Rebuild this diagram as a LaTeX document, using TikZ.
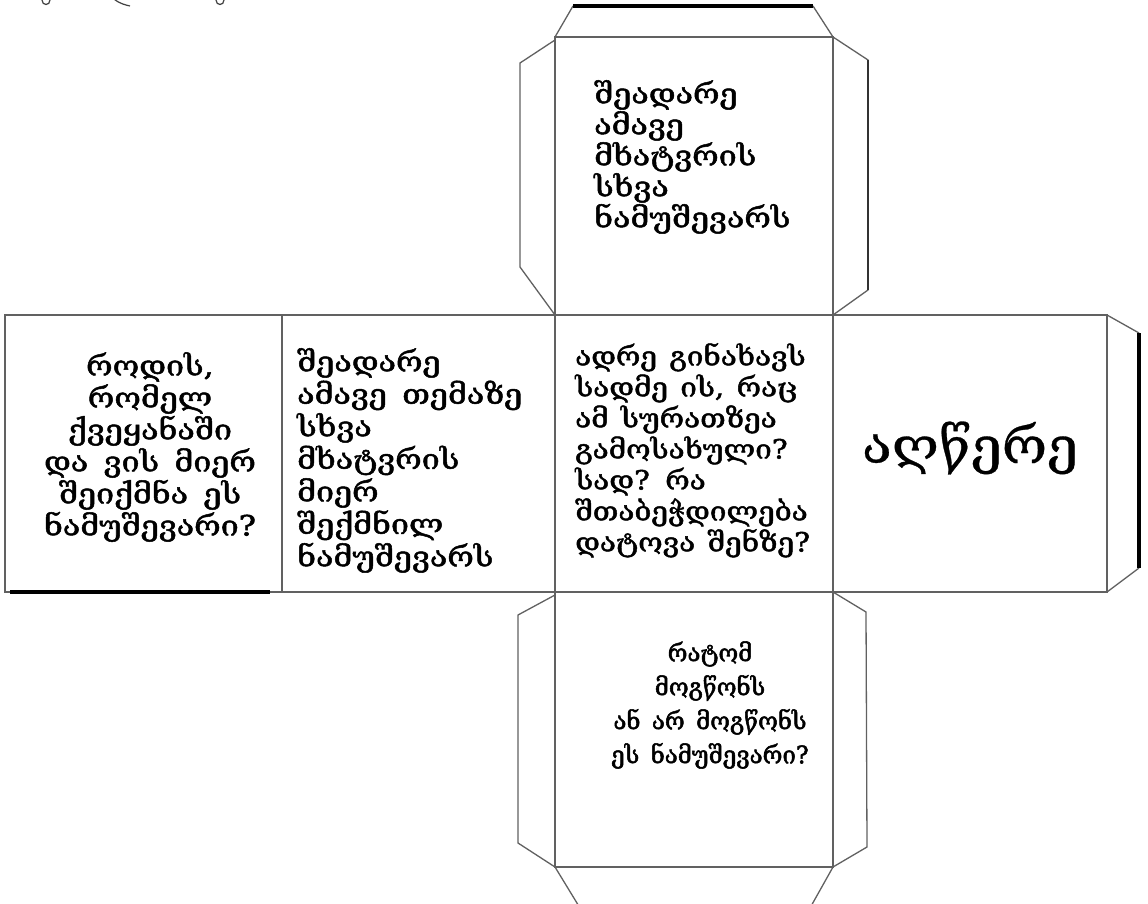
\documentclass[tikz,border=0pt]{standalone}
\usepackage{fontspec}
\newfontfamily\geo{DejaVu Serif}[FakeStretch=1.15, FakeBold=1.8, WordSpace=1.5]
\newfontfamily\geoc{DejaVu Serif}[FakeStretch=1.12, FakeBold=1.8, WordSpace=1.3]
\newfontfamily\geob{DejaVu Serif}[FakeBold=2.2, WordSpace=1.5]
\newfontfamily\geobig{DejaVu Serif}[FakeStretch=1.1, FakeBold=0.6]
\tikzset{
  face/.style={draw=black!62, line width=1.4pt},
  tab/.style={draw=black!62, line width=1.3pt},
  heavy/.style={draw=black, line width=3.2pt},
  txt/.style={inner sep=0pt, font=\geo\fontsize{28}{31}\selectfont, text=black},
  glyphbit/.style={draw=black!75, line width=1.2pt},
}
\begin{document}
\begin{tikzpicture}[x=1pt,y=-1pt]
\clip (0,0) rectangle (1148,904);
\fill[white] (0,0) rectangle (1148,904);
% cut-off glyph bottoms at the top left
\draw[glyphbit] (42,0) .. controls (42,6) and (50,6) .. (50,0);
\draw[glyphbit] (114,-1) .. controls (120,4) and (126,5) .. (130,6);
\draw[glyphbit] (216,0) .. controls (216,6) and (224,6) .. (224,0);
% coordinates
\coordinate (A) at (5,315);
\coordinate (B) at (282,315);
\coordinate (C) at (555,315);
\coordinate (D) at (833,315);
\coordinate (E) at (1107,315);
\coordinate (A2) at (5,592);
\coordinate (B2) at (282,592);
\coordinate (C2) at (555,592);
\coordinate (D2) at (833,592);
\coordinate (E2) at (1107,592);
\coordinate (TC) at (555,37);
\coordinate (TD) at (833,37);
\coordinate (BC) at (555,867);
\coordinate (BD) at (833,867);
% tabs of top face
\draw[tab] (TC) -- (573,6);
\draw[tab] (TD) -- (813,6);
\draw[heavy] (573,6) -- (813,6);
\draw[tab] (555,40) -- (520,63) -- (520,267) -- (C);
\draw[tab] (TD) -- (868,60) -- (868,290) -- (D);
\draw[draw=black!80, line width=2pt] (868,60) -- (868,290);
% right tab
\draw[tab] (E) -- (1139,333);
\draw[tab] (1139,568) -- (E2);
\draw[draw=black, line width=4pt] (1139,333) -- (1139,568);
% bottom face tabs
\draw[tab] (555,595) -- (518,615) -- (518,843) -- (BC);
\draw[tab] (D2) -- (866,612) -- (867,847) -- (BD);
\draw[tab] (BC) -- (580,908);
\draw[tab] (BD) -- (810,908);
% faces
\draw[face] (TC) rectangle (D);
\draw[face] (A) rectangle (E2);
\draw[face] (B) -- (B2);
\draw[face] (C) -- (C2);
\draw[face] (D) -- (D2);
\draw[face] (C2) rectangle (BD);
\draw[heavy] (10,592) -- (270,592);
% texts
\node[txt, anchor=north west, align=left] (ttop) at (594,80)
  {შეადარე\\ამავე\\მხატვრის\\სხვა\\ნამუშევარს};
\node[txt, align=center, font=\geo\fontsize{28}{32}\selectfont] (tleft) at (150,447)
  {როდის,\\რომელ\\ქვეყანაში\\და ვის მიერ\\შეიქმნა ეს\\ნამუშევარი?};
\node[txt, anchor=north west, align=left, font=\geo\fontsize{28}{32.5}\selectfont] (tsecond) at (297,348)
  {შეადარე\\ამავე თემაზე\\სხვა\\მხატვრის\\მიერ\\შექმნილ\\ნამუშევარს};
\node[txt, anchor=north west, align=left, font=\geoc\fontsize{26.5}{31}\selectfont] (tthird) at (575,343)
  {ადრე გინახავს\\სადმე ის, რაც\\ამ სურათზეა\\გამოსახული?\\სად? რა\\შთაბეჭდილება\\დატოვა შენზე?};
\node[inner sep=0pt, font=\geobig\fontsize{50}{60}\selectfont] (tfourth) at (970,448) {აღწერე};
\node[txt, align=center, font=\geob\fontsize{24}{34}\selectfont] (tbottom) at (710,705)
  {რატომ\\მოგწონს\\ან არ მოგწონს\\ეს ნამუშევარი?};
\end{tikzpicture}
\end{document}
